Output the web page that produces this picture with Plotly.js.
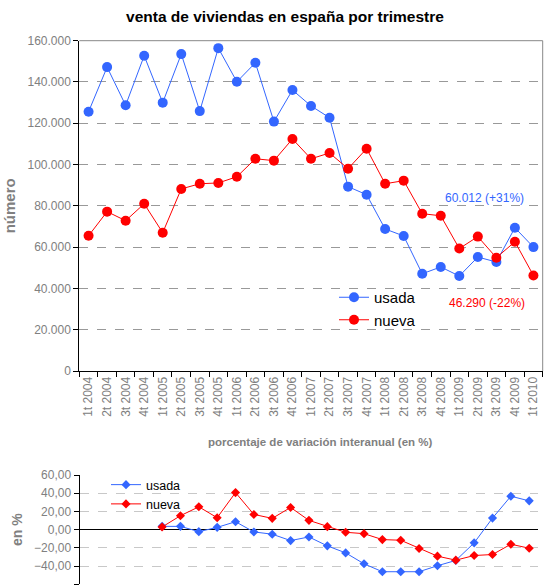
<!DOCTYPE html>
<html>
<head>
<meta charset="utf-8">
<script src="https://cdn.plot.ly/plotly-3.0.1.min.js"></script>
<style>
html,body{margin:0;padding:0;background:#fff;}
#chart{width:549px;height:588px;}
</style>
</head>
<body>
<div id="chart"></div>
<script>
// ---- data ----
const quarters = ["1t 2004","2t 2004","3t 2004","4t 2004","1t 2005","2t 2005","3t 2005","4t 2005",
  "1t 2006","2t 2006","3t 2006","4t 2006","1t 2007","2t 2007","3t 2007","4t 2007",
  "1t 2008","2t 2008","3t 2008","4t 2008","1t 2009","2t 2009","3t 2009","4t 2009","1t 2010"];
const usada = [125600,147200,128700,152700,130000,153500,125900,156400,140100,149300,120800,136100,
  128400,122700,89300,85400,68800,65400,47100,50400,46000,55200,52800,69400,60012];
const nueva = [65500,77200,72800,81000,67000,88200,90700,91100,94100,102800,101900,112400,
  102800,105600,98000,107700,90700,92200,76200,75200,59300,65100,54900,62600,46290];
const quartersVar = quarters.slice(4);
const usadaVar = [3.6,3.6,-2.2,2.5,8.7,-2.5,-5.0,-12.0,-8.0,-17.8,-25.5,-37.5,-46.2,-46.2,-46.2,-39.6,-33.8,-14.5,12.7,36.7,31.6];
const nuevaVar = [2.9,15.3,25.1,13.1,40.7,16.7,12.4,24.4,10.2,3.3,-2.9,-4.4,-10.9,-11.6,-20.7,-29.1,-33.5,-28.4,-27.3,-16.0,-20.4];
const yTicksTop = [0,20000,40000,60000,80000,100000,120000,140000,160000];
const yTicksBottom = [-60,-40,-20,0,20,40,60];
const labelUsada = "60.012 (+31%)";
const labelNueva = "46.290 (-22%)";

const BLUE = "#3366ff", RED = "#ff0000", GRAY = "#808080";
const W = 549, H = 588;
const px = v => v / W, py = v => 1 - v / H;

const traces = [
  {x: quarters, y: usada, name: "usada", type: "scatter", mode: "lines+markers",
   line: {color: BLUE, width: 1}, marker: {color: BLUE, size: 10, symbol: "circle"},
   xaxis: "x", yaxis: "y", legend: "legend"},
  {x: quarters, y: nueva, name: "nueva", type: "scatter", mode: "lines+markers",
   line: {color: RED, width: 1}, marker: {color: RED, size: 10, symbol: "circle"},
   xaxis: "x", yaxis: "y", legend: "legend"},
  {x: quartersVar, y: usadaVar, name: "usada", type: "scatter", mode: "lines+markers",
   line: {color: BLUE, width: 1}, marker: {color: BLUE, size: 7, symbol: "diamond"},
   xaxis: "x2", yaxis: "y2", legend: "legend2"},
  {x: quartersVar, y: nuevaVar, name: "nueva", type: "scatter", mode: "lines+markers",
   line: {color: RED, width: 1}, marker: {color: RED, size: 7, symbol: "diamond"},
   xaxis: "x2", yaxis: "y2", legend: "legend2"}
];

const tickFont = {family: "Liberation Sans, Arial, sans-serif", size: 12, color: GRAY};

const layout = {
  width: W, height: H,
  margin: {l: 0, r: 0, t: 0, b: 0},
  paper_bgcolor: "#ffffff", plot_bgcolor: "#ffffff",
  separators: ",.",
  font: {family: "Liberation Sans, Arial, sans-serif", size: 12, color: "#000"},
  title: {text: "venta de viviendas en españa por trimestre",
    font: {family: "Liberation Sans, Arial, sans-serif", size: 15.5, color: "#000", weight: "bold"},
    x: px(285), xanchor: "center", y: py(17), yanchor: "middle", xref: "paper", yref: "paper"},
  xaxis: {domain: [px(79.3), px(542.7)], anchor: "y", type: "category",
    categoryorder: "array", categoryarray: quarters, range: [-0.5, 24.5],
    tickson: "boundaries", ticks: "outside", ticklen: 5, tickcolor: "#000",
    showline: true, linecolor: "#000", linewidth: 1, showgrid: false, zeroline: false,
    tickangle: -90, tickfont: tickFont, automargin: false},
  yaxis: {domain: [py(371), py(40.7)], anchor: "x", range: [0, 160000],
    tickvals: yTicksTop, tickformat: ",d", ticks: "outside", ticklen: 5, tickcolor: "#000",
    showline: true, linecolor: "#000", linewidth: 1,
    showgrid: true, gridcolor: "#999999", griddash: "dash", gridwidth: 1, zeroline: false,
    tickfont: tickFont, automargin: false,
    title: {text: "número", standoff: 8,
      font: {family: "Liberation Sans, Arial, sans-serif", size: 15, color: GRAY, weight: "bold"}}},
  xaxis2: {domain: [px(79.5), px(538.4)], anchor: "y2", type: "category",
    categoryorder: "array", categoryarray: quarters, range: [-0.5, 24.5],
    showticklabels: false, ticks: "", showline: false, showgrid: false, zeroline: false,
    automargin: false},
  yaxis2: {domain: [py(584.3), py(475)], anchor: "x2", range: [-60, 60],
    tickvals: yTicksBottom, tickformat: ".2f", ticks: "outside", ticklen: 5, tickcolor: "#000",
    showline: true, linecolor: "#000", linewidth: 1,
    showgrid: true, gridcolor: "#c8c8c8", griddash: "dash", gridwidth: 1,
    zeroline: true, zerolinecolor: "#000", zerolinewidth: 1.5,
    tickfont: tickFont, automargin: false,
    title: {text: "en %", standoff: 8,
      font: {family: "Liberation Sans, Arial, sans-serif", size: 14, color: GRAY, weight: "bold"}}},
  legend: {x: px(334), y: py(281), xanchor: "left", yanchor: "top",
    bgcolor: "rgba(0,0,0,0)", borderwidth: 0, itemwidth: 30, tracegroupgap: 0,
    font: {family: "Liberation Sans, Arial, sans-serif", size: 15, color: "#000"}},
  legend2: {x: px(106), y: py(470), xanchor: "left", yanchor: "top",
    bgcolor: "rgba(0,0,0,0)", borderwidth: 0, itemwidth: 30,
    font: {family: "Liberation Sans, Arial, sans-serif", size: 12.5, color: "#000"}},
  shapes: [
    {type: "line", xref: "x domain", yref: "y domain", x0: 0, x1: 1, y0: 1, y1: 1,
     line: {color: "#888", width: 1}},
    {type: "line", xref: "x domain", yref: "y domain", x0: 1, x1: 1, y0: 0, y1: 1,
     line: {color: "#888", width: 1}}
  ],
  annotations: [
    {text: labelUsada, xref: "paper", yref: "paper", x: px(485), y: py(198),
     xanchor: "center", yanchor: "middle", showarrow: false,
     font: {family: "Liberation Sans, Arial, sans-serif", size: 12, color: BLUE}},
    {text: labelNueva, xref: "paper", yref: "paper", x: px(487), y: py(303),
     xanchor: "center", yanchor: "middle", showarrow: false,
     font: {family: "Liberation Sans, Arial, sans-serif", size: 12, color: RED}},
    {text: "porcentaje de variación interanual (en %)", xref: "paper", yref: "paper",
     x: px(320), y: py(442), xanchor: "center", yanchor: "middle", showarrow: false,
     font: {family: "Liberation Sans, Arial, sans-serif", size: 11.5, color: GRAY, weight: "bold"}}
  ]
};

Plotly.newPlot("chart", traces, layout, {displayModeBar: false, staticPlot: true});
</script>
</body>
</html>
